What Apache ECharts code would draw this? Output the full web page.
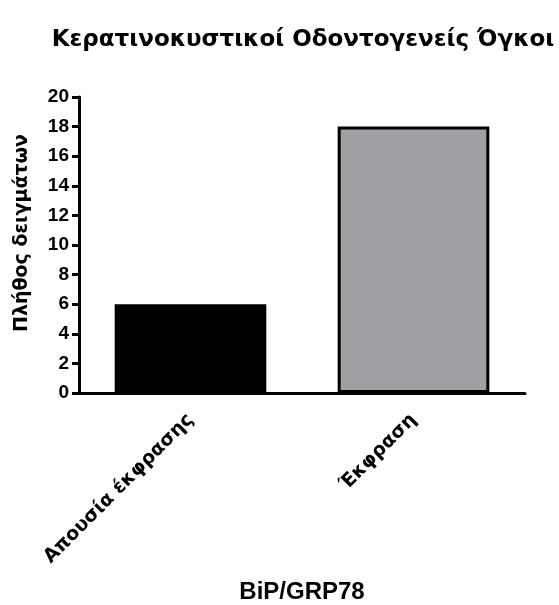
<!DOCTYPE html>
<html><head><meta charset="utf-8">
<script src="https://cdn.jsdelivr.net/npm/echarts@6/dist/echarts.min.js"></script>
<style>html,body{margin:0;padding:0;background:#fff;overflow:hidden}#c{width:559px;height:605px}</style>
</head><body><div id="c"></div>
<script>
const categories = ['Απουσία έκφρασης', 'Έκφραση'];
const values = [6, 18];
const barColors = ['#000000', '#a09fa4'];
const yTicks = {min: 0, max: 20, interval: 2};
const titleText = 'Κερατινοκυστικοί Οδοντογενείς Όγκοι';
const xName = 'BiP/GRP78';
const yName = 'Πλήθος δειγμάτων';
const F = 'Arial, "Liberation Sans", sans-serif';
const G = '"DejaVu Sans", Verdana, sans-serif';

const chart = echarts.init(document.getElementById('c'), null, {renderer: 'canvas', width: 559, height: 605});
chart.setOption({
  animation: false,
  backgroundColor: '#fff',
  title: {text: titleText, left: 298, top: 24, textAlign: 'center',
    textStyle: {fontFamily: G, fontWeight: 'bold', fontSize: 23, color: '#000'}},
  grid: {left: 79, width: 446, top: 97, height: 296, containLabel: false},
  xAxis: {
    type: 'category', data: categories,
    name: xName, nameLocation: 'middle', nameGap: 187,
    nameTextStyle: {fontFamily: F, fontWeight: 'bold', fontSize: 24, color: '#000'},
    axisLine: {lineStyle: {color: '#000', width: 3}},
    axisTick: {alignWithLabel: true, length: 8, lineStyle: {color: '#000', width: 3}},
    axisLabel: {rotate: 45, margin: 24, fontFamily: G, fontWeight: 'bold', fontSize: 19, color: '#000'}
  },
  yAxis: {
    type: 'value', min: yTicks.min, max: yTicks.max, interval: yTicks.interval,
    name: yName, nameLocation: 'middle', nameGap: 47,
    nameTextStyle: {fontFamily: G, fontWeight: 'bold', fontSize: 19, color: '#000', padding: [0, 0, 0, 24]},
    axisLine: {show: true, lineStyle: {color: '#000', width: 3}},
    axisTick: {show: true, length: 7, lineStyle: {color: '#000', width: 3}},
    splitLine: {show: false},
    axisLabel: {margin: 10, fontFamily: F, fontWeight: 'bold', fontSize: 19, color: '#000'}
  },
  series: [{
    type: 'bar', barWidth: '68%',
    data: values.map((v, i) => ({value: v, itemStyle: {color: barColors[i], borderColor: '#000', borderWidth: 3}}))
  }]
});
</script></body></html>
